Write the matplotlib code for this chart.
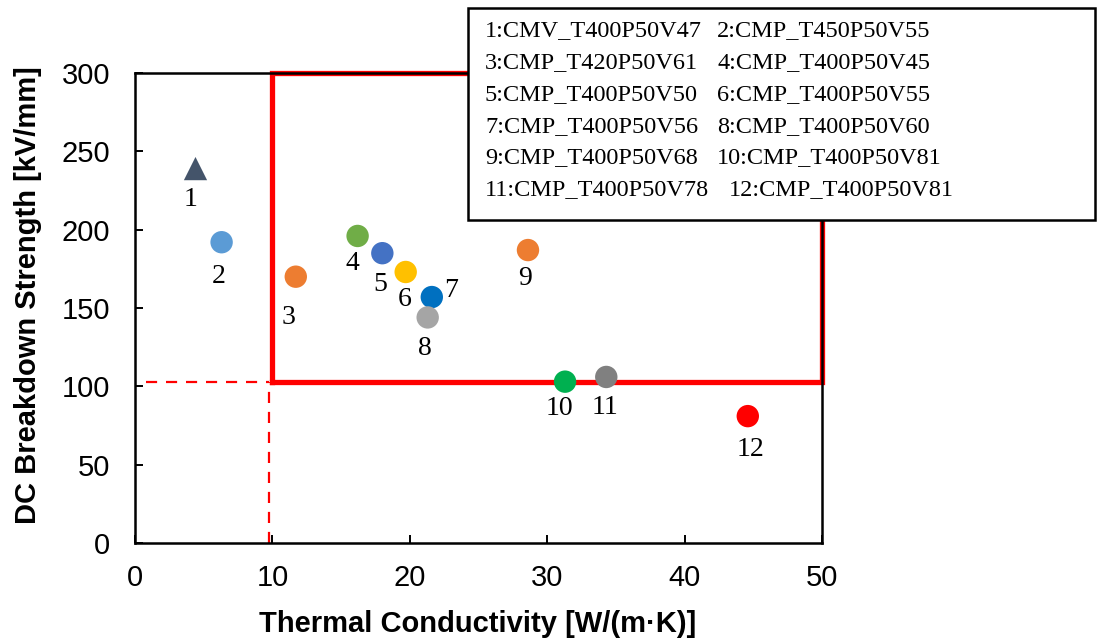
import matplotlib.pyplot as plt
from matplotlib.patches import Rectangle

# Sample data
labels = ["1", "2", "3", "4", "5", "6", "7", "8", "9", "10", "11", "12"]
conductivity = [4.4, 6.3, 11.7, 16.2, 18.0, 19.7, 21.6, 21.3, 28.6, 31.3, 34.3, 44.6]
strength = [239, 192, 170, 196, 185, 173, 157, 144, 187, 103, 106, 81]
colors = ["#44546A", "#5B9BD5", "#ED7D31", "#70AD47", "#4472C4", "#FFC000",
          "#0070C0", "#A5A5A5", "#ED7D31", "#00B050", "#808080", "#FF0000"]
markers = ["^"] + ["o"] * 11
sample_names = ["1:CMV_T400P50V47", "2:CMP_T450P50V55", "3:CMP_T420P50V61",
                "4:CMP_T400P50V45", "5:CMP_T400P50V50", "6:CMP_T400P50V55",
                "7:CMP_T400P50V56", "8:CMP_T400P50V60", "9:CMP_T400P50V68",
                "10:CMP_T400P50V81", "11:CMP_T400P50V78", "12:CMP_T400P50V81"]

# target region
tc_min, tc_max = 10, 50
bd_min, bd_max = 103, 300

# label offsets in pixels (dx, dy)
offsets = [(-5, -31), (-3, -34), (-7, -41), (-5, -28), (-2, -31), (-1, -28),
           (19, 7), (-3, -31), (-3, -28), (-6, -27), (-1, -31), (3, -33)]

fig = plt.figure(figsize=(10.97, 6.44), dpi=100)
ax = fig.add_axes([0.1231, 0.1568, 0.6262, 0.7298])

ax.set_xlim(0, 50)
ax.set_ylim(0, 300)
ax.set_xticks(range(0, 51, 10))
ax.set_yticks(range(0, 301, 50))
ax.tick_params(direction="in", length=6, width=1.4, labelsize=21)
ax.tick_params(axis="x", pad=15)
ax.tick_params(axis="y", pad=18)
for lab in ax.get_xticklabels() + ax.get_yticklabels():
    lab.set_family("Liberation Sans")
for sp in ax.spines.values():
    sp.set_linewidth(1.8)

# dashed guides to the target corner
ax.plot([0.8, tc_min - 0.25], [bd_min - 0.5, bd_min - 0.5], color="red", ls="--", lw=1.6, dashes=(5, 4))
ax.plot([tc_min - 0.25, tc_min - 0.25], [0, bd_min - 0.5], color="red", ls="--", lw=1.6, dashes=(5, 4))

# solid target box
ax.plot([tc_min, tc_max, tc_max, tc_min, tc_min], [bd_min, bd_min, bd_max, bd_max, bd_min],
        color="#FF0000", lw=3.8, clip_on=False, zorder=2, solid_joinstyle="miter")

for i in range(len(labels)):
    ax.scatter(conductivity[i], strength[i], s=260 if markers[i] == "o" else 280,
               c=colors[i], marker=markers[i], edgecolors="none", zorder=3, clip_on=False)
    ax.annotate(labels[i], (conductivity[i], strength[i]), xytext=offsets[i],
                textcoords="offset pixels", ha="center", va="center",
                fontsize=20, family="Liberation Serif")

ax.set_xlabel("Thermal Conductivity [W/(m\u00b7K)]", fontsize=21, fontweight="bold",
              family="Liberation Sans")
ax.set_ylabel("DC Breakdown Strength [kV/mm]", fontsize=21, fontweight="bold",
              family="Liberation Sans")
ax.xaxis.set_label_coords(0.4985, -0.142)
ax.yaxis.set_label_coords(-0.135, 0.528)

# legend box with the sample names
W, H = 1097, 644
fig.patches.append(Rectangle((468 / W, 1 - 220 / H), (1095 - 468) / W, (220 - 8) / H,
                             transform=fig.transFigure, facecolor="white",
                             edgecolor="black", lw=1.8, zorder=10))
row_y = [31, 63, 95, 127, 158, 190]
for k, name in enumerate(sample_names):
    row, col = divmod(k, 2)
    x = 485 if col == 0 else (729 if row == 5 else 717)
    fig.text(x / W, 1 - row_y[row] / H, name, ha="left", va="center",
             fontsize=17.5, family="Liberation Serif", zorder=11)

fig.savefig("out.png", dpi=100)
